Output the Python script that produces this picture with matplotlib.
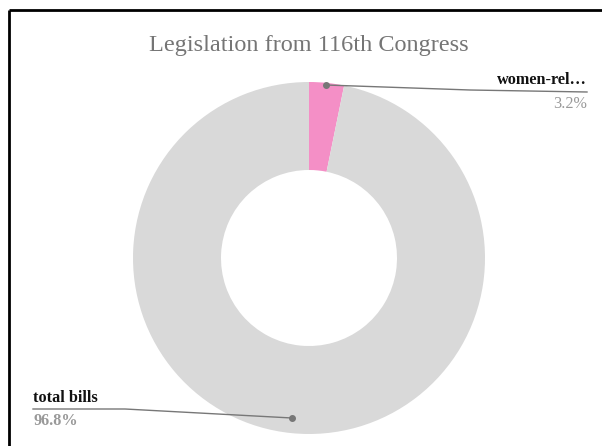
import matplotlib.pyplot as plt

# data
labels = ["women-rel\u2026", "total bills"]
shares = [3.2, 96.8]
colors = ["#f48fc6", "#d9d9d9"]
title = "Legislation from 116th Congress"

W, H = 602, 446
fig = plt.figure(figsize=(W / 100, H / 100), dpi=100)
ax = fig.add_axes([0, 0, 1, 1])

plt.rcParams['font.family'] = ['Liberation Serif', 'DejaVu Serif']

cx, cy, r = 309, H - 258, 176
ax.pie(shares, colors=colors, startangle=90, counterclock=False,
       center=(cx, cy), radius=r, frame=True,
       wedgeprops=dict(width=r * 0.5, linewidth=0))
ax.set_xlim(0, W)
ax.set_ylim(0, H)
ax.set_aspect("equal")
ax.axis("off")

# frame lines (top and left)
ax.plot([8.5, W], [H - 10, H - 10], color="black", lw=2, solid_capstyle="butt")
ax.plot([8.5, 8.5], [0, H - 10], color="black", lw=2, solid_capstyle="butt")

ax.text(309, H - 45, title, ha="center", va="center", fontsize=17.5, color="#757575")

lc = "#777777"
# women-related label
ax.plot([326, 470, 587], [H - 85, H - 90, H - 92], color=lc, lw=1)
ax.plot(326, H - 85, "o", color=lc, ms=4)
ax.text(587, H - 88, labels[0], ha="right", va="bottom", fontsize=11.7,
        fontweight="bold", color="#111111")
ax.text(587, H - 96, f"{shares[0]}%", ha="right", va="top", fontsize=11.7,
        color="#999999")

# total bills label
ax.plot([33, 125, 292], [H - 409, H - 409, H - 418], color=lc, lw=1)
ax.plot(292, H - 418, "o", color=lc, ms=4)
ax.text(33, H - 406, labels[1], ha="left", va="bottom", fontsize=11.7,
        fontweight="bold", color="#111111")
ax.text(33, H - 413, f"{shares[1]}%", ha="left", va="top", fontsize=11.7,
        fontweight="bold", color="#999999")

fig.savefig("out.png", dpi=100)
